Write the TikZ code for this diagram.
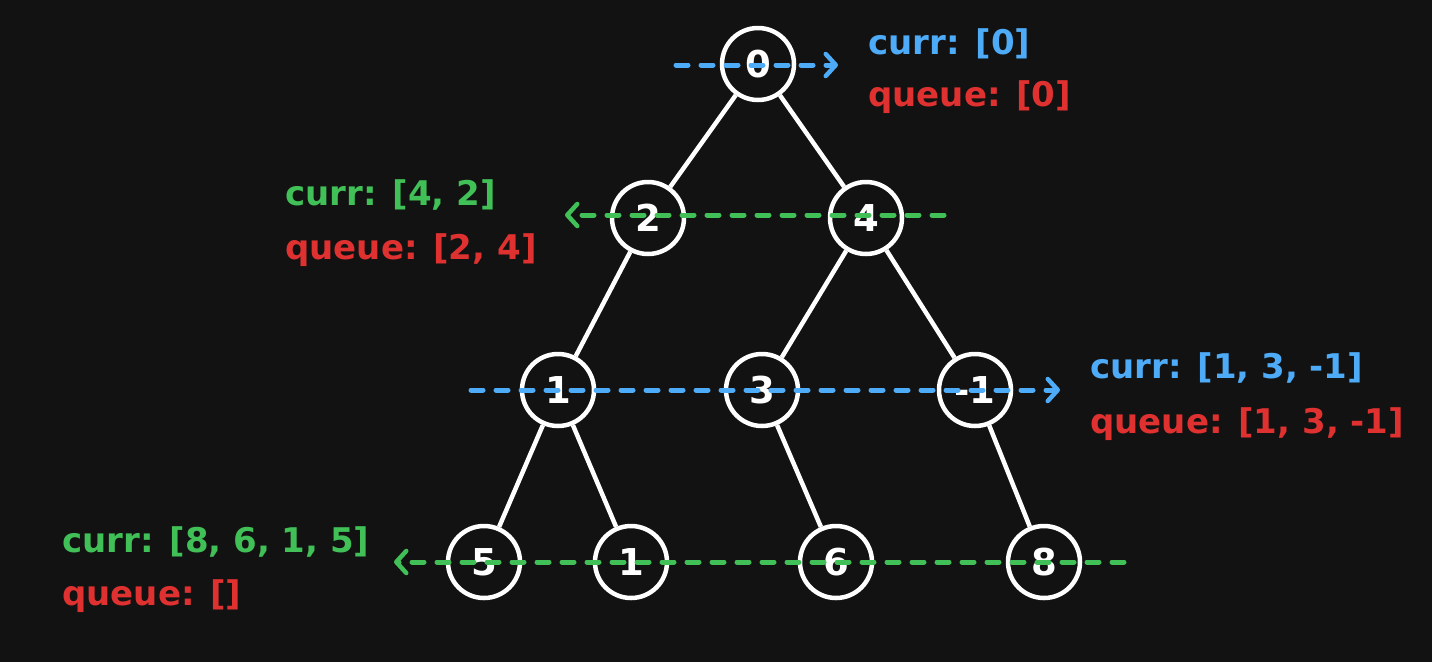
\documentclass[tikz,border=0pt]{standalone}
\usepackage{fontspec}
\setmainfont{DejaVu Sans}
\usetikzlibrary{arrows.meta}
\definecolor{bg}{HTML}{121212}
\definecolor{cblue}{HTML}{4DABF7}
\definecolor{cred}{HTML}{E03131}
\definecolor{cgreen}{HTML}{40C057}
\tikzset{
  tnode/.style={circle, draw=white, line width=4.5pt, minimum size=72pt, inner sep=0pt, text=white, font=\bfseries\fontsize{37}{40}\selectfont},
  edge/.style={draw=white, line width=4.5pt},
  scan/.style={line width=5pt, dash pattern=on 12pt off 13pt, line cap=round, -{Straight Barb[length=10pt,width=22pt,line width=4.5pt,round]}},
  lbl/.style={anchor=base west, inner sep=0pt, font=\bfseries\fontsize{34}{38}\selectfont},
}
\begin{document}
\begin{tikzpicture}[x=1pt,y=-1pt]
\fill[bg] (0,0) rectangle (1432,662);
\useasboundingbox (0,0) rectangle (1432,662);
% nodes
\node[tnode] (n0) at (758,64) {0};
\node[tnode] (n2) at (648,218) {2};
\node[tnode] (n4) at (866,218) {4};
\node[tnode] (n1) at (558,390) {1};
\node[tnode] (n3) at (762,390) {3};
\node[tnode] (nm1) at (975,390) {-1};
\node[tnode] (n5) at (484,562) {5};
\node[tnode] (n1b) at (631,562) {1};
\node[tnode] (n6) at (836,562) {6};
\node[tnode] (n8) at (1044,562) {8};
% edges
\draw[edge] (n0) -- (n2);
\draw[edge] (n0) -- (n4);
\draw[edge] (n2) -- (n1);
\draw[edge] (n4) -- (n3);
\draw[edge] (n4) -- (nm1);
\draw[edge] (n1) -- (n5);
\draw[edge] (n1) -- (n1b);
\draw[edge] (n3) -- (n6);
\draw[edge] (nm1) -- (n8);
% scan arrows
\coordinate (a1s) at (676,65); \coordinate (a1e) at (838,65);
\coordinate (a2s) at (944,215); \coordinate (a2e) at (565,215);
\coordinate (a3s) at (471,390); \coordinate (a3e) at (1060,390);
\coordinate (a4s) at (1124,562); \coordinate (a4e) at (394,562);
\draw[scan, cblue] (a1s) -- (a1e);
\draw[scan, cgreen] (a2s) -- (a2e);
\draw[scan, cblue] (a3s) -- (a3e);
\draw[scan, cgreen] (a4s) -- (a4e);
% labels
\node[lbl, text=cblue] (c1) at (868,54) {curr: [0]};
\node[lbl, text=cred] (q1) at (868,106) {queue: [0]};
\node[lbl, text=cgreen] (c2) at (285,205) {curr: [4, 2]};
\node[lbl, text=cred] (q2) at (285,259) {queue: [2, 4]};
\node[lbl, text=cblue] (c3) at (1090,378) {curr: [1, 3, -1]};
\node[lbl, text=cred] (q3) at (1090,433) {queue: [1, 3, -1]};
\node[lbl, text=cgreen] (c4) at (62,552) {curr: [8, 6, 1, 5]};
\node[lbl, text=cred] (q4) at (62,605) {queue: []};
\end{tikzpicture}
\end{document}
